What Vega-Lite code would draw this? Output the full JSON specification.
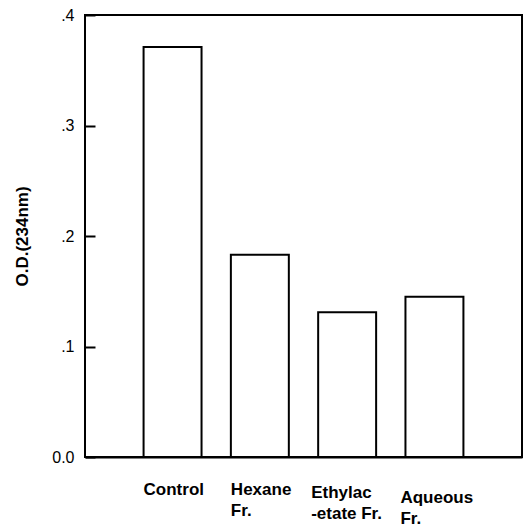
{
  "$schema": "https://vega.github.io/schema/vega-lite/v6.json",
  "autosize": "none",
  "width": 437,
  "height": 442,
  "padding": {"left": 85, "top": 15, "right": 5, "bottom": 73},
  "background": "white",
  "config": {
    "view": {"stroke": "black", "strokeWidth": 2},
    "font": "Liberation Sans"
  },
  "data": {
    "values": [
      {"group": "Control", "od": 0.371},
      {"group": "Hexane Fr.", "od": 0.183},
      {"group": "Ethylacetate Fr.", "od": 0.131},
      {"group": "Aqueous Fr.", "od": 0.145}
    ]
  },
  "mark": {"type": "bar", "fill": "white", "stroke": "black", "strokeWidth": 2},
  "encoding": {
    "x": {
      "field": "group",
      "type": "nominal",
      "sort": null,
      "scale": {"paddingInner": 0.336, "paddingOuter": 0.671},
      "axis": {
        "title": null,
        "labelAngle": 0,
        "labelExpr": "split(datum.value == 'Control' ? 'Control' : datum.value == 'Hexane Fr.' ? 'Hexane|Fr.' : datum.value == 'Ethylacetate Fr.' ? 'Ethylac|-etate Fr.' : 'Aqueous|Fr.', '|')",
        "labelAlign": "left",
        "labelOffset": {"condition": [{"test": "datum.value == 'Ethylacetate Fr.'", "value": -36}, {"test": "datum.value == 'Aqueous Fr.'", "value": -34}], "value": -29},
        "labelBaseline": "top",
        "labelPadding": {"condition": [{"test": "datum.value == 'Ethylacetate Fr.'", "value": 27}, {"test": "datum.value == 'Aqueous Fr.'", "value": 32}], "value": 24},
        "labelFont": "Liberation Sans",
        "labelFontWeight": "bold",
        "labelFontSize": 17,
        "labelLineHeight": 21,
        "labelColor": "black",
        "ticks": false,
        "domainColor": "black",
        "domainWidth": 2
      }
    },
    "y": {
      "field": "od",
      "type": "quantitative",
      "scale": {"domain": [0, 0.4], "nice": false},
      "axis": {
        "title": "O.D.(234nm)",
        "titleFont": "Liberation Sans",
        "titleFontWeight": "bold",
        "titleFontSize": 17,
        "titleColor": "black",
        "titlePadding": 20,
        "values": [0, 0.1, 0.2, 0.3, 0.4],
        "labelExpr": "datum.value == 0 ? '0.0' : replace(format(datum.value, '.1f'), '0.', '.')",
        "labelFont": "Liberation Sans",
        "labelFontSize": 16,
        "labelColor": "black",
        "labelPadding": 11,
        "offset": -10,
        "domain": false,
        "ticks": true,
        "tickSize": 10,
        "tickColor": "#000000",
        "tickWidth": 2,
        "tickOpacity": 1,
        "grid": false,
        "zindex": 1
      }
    }
  }
}
